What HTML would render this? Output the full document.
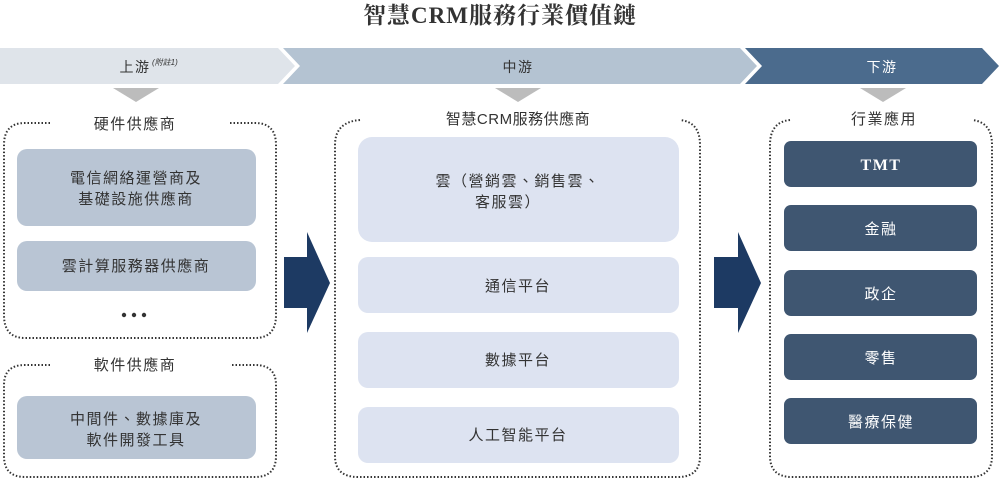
<!DOCTYPE html>
<html><head><meta charset="utf-8">
<style>
html,body{margin:0;padding:0;background:#fff;}
svg{display:block;}
text{font-family:"Liberation Sans","Noto Sans CJK TC",sans-serif;letter-spacing:1.5px;}
</style></head><body>
<svg width="1000" height="490" viewBox="0 0 1000 490" xmlns="http://www.w3.org/2000/svg">
<text x="500" y="23" text-anchor="middle" font-size="23" fill="#333" style="font-family:'Liberation Serif','Noto Serif CJK SC',serif;font-weight:bold;letter-spacing:1px">智慧CRM服務行業價值鏈</text>
<polygon points="0,48 278,48 295,66 278,84 0,84" fill="#dfe4ea"/>
<polygon points="283,48 740,48 757,66 740,84 283,84 300,66" fill="#b4c3d2"/>
<polygon points="745,48 982,48 999,66 982,84 745,84 762,66" fill="#4b6b8d"/>
<text x="135" y="72" text-anchor="middle" font-size="14" fill="#333">上游</text>
<text x="152" y="65" font-size="8" font-style="italic" fill="#333" style="letter-spacing:0">(附註1)</text>
<text x="518" y="72" text-anchor="middle" font-size="14" fill="#333">中游</text>
<text x="882" y="72" text-anchor="middle" font-size="14" fill="#fff">下游</text>
<polygon points="113,88 159,88 136,102" fill="#bcbcbc"/>
<polygon points="495,88 541,88 518,102" fill="#bcbcbc"/>
<polygon points="860,88 906,88 883,102" fill="#bcbcbc"/>
<g fill="none" stroke="#333" stroke-width="2" stroke-dasharray="1.5 2">
<path d="M50,123 L25,123 Q4,123 4,145 L4,315 Q4,338 25,338 L255,338 Q276,338 276,315 L276,145 Q276,123 255,123 L230,123"/>
<path d="M50,365 L25,365 Q4,365 4,385 L4,456 Q4,477 25,477 L255,477 Q276,477 276,456 L276,385 Q276,365 255,365 L230,365"/>
<path d="M360,120 Q335,122 335,145 L335,456 Q335,477 358,477 L678,477 Q700,477 700,456 L700,145 Q700,122 680,120"/>
<path d="M790,120 Q770,122 770,145 L770,456 Q770,477 792,477 L970,477 Q992,477 992,456 L992,145 Q992,122 972,120"/>
</g>
<text x="135" y="129" text-anchor="middle" font-size="15" fill="#333">硬件供應商</text>
<text x="135" y="370" text-anchor="middle" font-size="15" fill="#333">軟件供應商</text>
<text x="518" y="124" text-anchor="middle" font-size="15" fill="#333" style="letter-spacing:0.5px">智慧CRM服務供應商</text>
<text x="884" y="124" text-anchor="middle" font-size="15" fill="#333">行業應用</text>
<rect x="17" y="149" width="239" height="77" rx="10" fill="#b9c5d4"/>
<text x="136" y="183" text-anchor="middle" font-size="15" fill="#333">電信網絡運營商及</text>
<text x="136" y="204" text-anchor="middle" font-size="15" fill="#333">基礎設施供應商</text>
<rect x="17" y="241" width="239" height="50" rx="10" fill="#b9c5d4"/>
<text x="136" y="271" text-anchor="middle" font-size="15" fill="#333">雲計算服務器供應商</text>
<circle cx="124" cy="315" r="2.2" fill="#333"/><circle cx="134" cy="315" r="2.2" fill="#333"/><circle cx="144" cy="315" r="2.2" fill="#333"/>
<rect x="17" y="396" width="239" height="63" rx="10" fill="#b9c5d4"/>
<text x="136" y="424" text-anchor="middle" font-size="15" fill="#333">中間件、數據庫及</text>
<text x="136" y="445" text-anchor="middle" font-size="15" fill="#333">軟件開發工具</text>
<polygon points="284,257 307,257 307,232 330,283 307,333 307,308 284,308" fill="#1d3a63"/>
<polygon points="714,257 738,257 738,232 761,283 738,333 738,308 714,308" fill="#1d3a63"/>
<rect x="358" y="137" width="321" height="105" rx="14" fill="#dde3f1"/>
<text x="518" y="186" text-anchor="middle" font-size="15" fill="#333">雲（營銷雲、銷售雲、</text>
<text x="508" y="207" text-anchor="middle" font-size="15" fill="#333">客服雲）</text>
<rect x="358" y="257" width="321" height="56" rx="10" fill="#dde3f1"/>
<text x="518" y="291" text-anchor="middle" font-size="15" fill="#333">通信平台</text>
<rect x="358" y="332" width="321" height="56" rx="10" fill="#dde3f1"/>
<text x="518" y="365" text-anchor="middle" font-size="15" fill="#333">數據平台</text>
<rect x="358" y="407" width="321" height="56" rx="10" fill="#dde3f1"/>
<text x="518" y="440" text-anchor="middle" font-size="15" fill="#333">人工智能平台</text>
<g fill="#3f5671">
<rect x="784" y="141" width="193" height="46" rx="7"/>
<rect x="784" y="205" width="193" height="46" rx="7"/>
<rect x="784" y="270" width="193" height="46" rx="7"/>
<rect x="784" y="334" width="193" height="46" rx="7"/>
<rect x="784" y="398" width="193" height="46" rx="7"/>
</g>
<g font-size="15" fill="#fff" text-anchor="middle">
<text x="881" y="170" style="font-family:'Liberation Serif',serif;font-weight:bold;font-size:16px">TMT</text>
<text x="881" y="234">金融</text>
<text x="881" y="299">政企</text>
<text x="881" y="363">零售</text>
<text x="881" y="427">醫療保健</text>
</g>
</svg>
</body></html>
